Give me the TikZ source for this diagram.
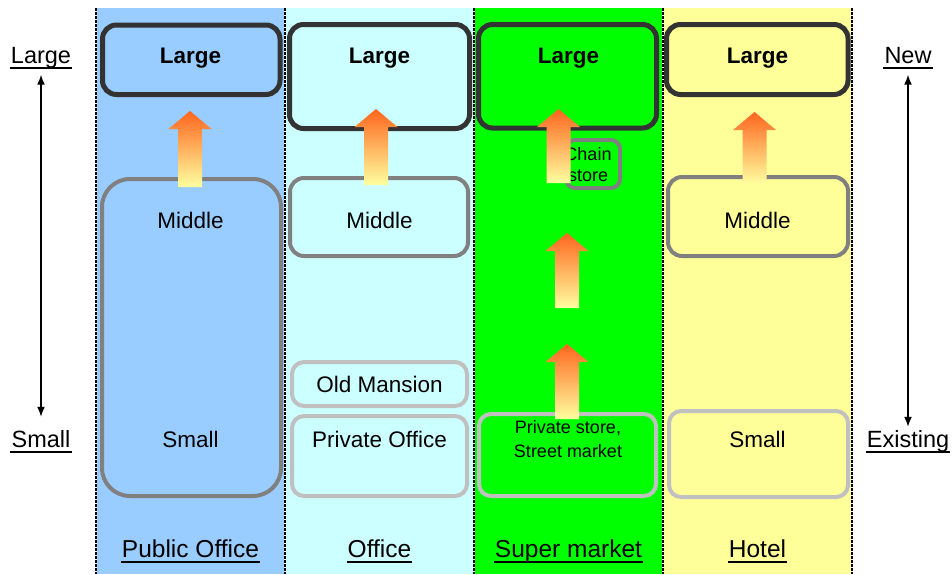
\documentclass[tikz,border=0pt]{standalone}
\usepackage{fontspec}
\setmainfont{Liberation Sans}
\usetikzlibrary{arrows.meta}

\definecolor{pubblue}{RGB}{153,204,255}
\definecolor{offcyan}{RGB}{204,255,255}
\definecolor{supgreen}{RGB}{0,255,0}
\definecolor{hotyellow}{RGB}{255,255,153}
\definecolor{darkrim}{RGB}{51,51,51}
\definecolor{midrim}{RGB}{128,128,128}
\definecolor{lightrim}{RGB}{192,192,192}
\definecolor{arrtop}{RGB}{255,102,30}
\definecolor{arrbot}{RGB}{255,255,160}

% block arrow: x, tip y, bottom y
\newcommand{\growarrow}[3]{%
  \shade[top color=arrtop,bottom color=arrbot]
    (#1-12,#3)--(#1-12,#2+18)--(#1-21.5,#2+18)--(#1,#2)--(#1+21.5,#2+18)
    --(#1+12,#2+18)--(#1+12,#3)--cycle;}

\begin{document}
\begin{tikzpicture}[x=1pt,y=-1pt,
  every node/.style={inner sep=1pt},
  bigbox/.style={draw=darkrim,line width=5pt,rounded corners=14pt},
  midbox/.style={draw=midrim,line width=4pt,rounded corners=14pt},
  litebox/.style={draw=lightrim,line width=4pt,rounded corners=12pt},
  sep/.style={line width=1.2pt,dash pattern=on 2.5pt off 1.5pt},
  bigtxt/.style={font=\bfseries\fontsize{22.5}{27}\selectfont,anchor=base},
  boxtxt/.style={font=\fontsize{22.5}{27}\selectfont,anchor=base},
  smalltxt/.style={font=\fontsize{18}{22}\selectfont,anchor=base},
  ulbl/.style={font=\fontsize{#1}{28}\selectfont,anchor=base,text depth=3.5pt,
    append after command={(\tikzlastnode.south west) edge[line width=1.8pt]
      (\tikzlastnode.south east)}},
  ulbl/.default=23.5,
  scalearr/.style={line width=1.5pt,
    {Latex[length=10pt,width=8pt]}-{Latex[length=10pt,width=8pt]}}]

\useasboundingbox (0,0) rectangle (952,574);

% columns
\fill[pubblue] (96,8) rectangle (285,574);
\fill[offcyan] (285,8) rectangle (474,574);
\fill[supgreen] (474,8) rectangle (663,574);
\fill[hotyellow] (663,8) rectangle (852,574);
\foreach \x in {96,285,474,663,852}{
  \draw[white,line width=1.2pt] (\x,8)--(\x,574);
  \draw[sep] (\x,8)--(\x,574);
}

% Public Office
\draw[bigbox] (102.5,25) rectangle (280,94.5);
\draw[midbox,rounded corners=28pt] (102,179) rectangle (281,496);
\node[bigtxt] (po-l) at (190.5,63) {Large};
\node[boxtxt] (po-m) at (190.5,228) {Middle};
\node[boxtxt] (po-s) at (190.5,447) {Small};

% Office
\draw[bigbox] (289.5,24.5) rectangle (469.5,128.5);
\draw[midbox] (290,178) rectangle (468,256);
\draw[litebox] (292,362) rectangle (467,406);
\draw[litebox] (292,416) rectangle (467,496);
\node[bigtxt] (of-l) at (379.5,63) {Large};
\node[boxtxt] (of-m) at (379.5,228) {Middle};
\node[boxtxt] (of-o) at (379.5,392) {Old Mansion};
\node[boxtxt] (of-p) at (379.5,447) {Private Office};

% Super market
\draw[bigbox] (478.5,24.5) rectangle (656.5,128);
\draw[midbox,rounded corners=9pt] (566,140) rectangle (620,188);
\draw[litebox] (479,414) rectangle (656,496);
\node[bigtxt] (sm-l) at (568.5,63) {Large};
\node[smalltxt] (sm-c1) at (588,160) {Chain};
\node[smalltxt] (sm-c2) at (588,181) {store};
\node[smalltxt] (sm-p1) at (568,433) {Private store,};
\node[smalltxt] (sm-p2) at (568,457) {Street market};

% Hotel
\draw[bigbox] (666.5,24.5) rectangle (848,94.5);
\draw[midbox] (668,177) rectangle (848,256);
\draw[litebox] (669,411) rectangle (848,497);
\node[bigtxt] (ho-l) at (757.5,63) {Large};
\node[boxtxt] (ho-m) at (757.5,228) {Middle};
\node[boxtxt] (ho-s) at (757.5,447) {Small};

% growth arrows
\growarrow{190}{111}{187}
\growarrow{376}{109}{185}
\growarrow{558.5}{109}{183}
\growarrow{567}{233}{308}
\growarrow{567}{344}{419}
\growarrow{754.5}{112}{184}

% column names
\node[ulbl=24.5] (nm-po) at (190.5,557) {Public Office};
\node[ulbl=24.5] (nm-of) at (379.5,557) {Office};
\node[ulbl=24.5] (nm-sm) at (568.5,557) {Super market};
\node[ulbl=24.5] (nm-ho) at (757.5,557) {Hotel};

% scales
\node[ulbl] (sz-l) at (41,63) {Large};
\node[ulbl] (sz-s) at (41,447) {Small};
\node[ulbl] (ag-n) at (908,63) {New};
\node[ulbl] (ag-e) at (908,447) {Existing};
\draw[scalearr,shorten <=7pt,shorten >=12pt] (sz-l.south) -- (sz-s.north);
\draw[scalearr,shorten <=7pt,shorten >=2pt] (ag-n.south) -- (ag-e.north);

\end{tikzpicture}
\end{document}
